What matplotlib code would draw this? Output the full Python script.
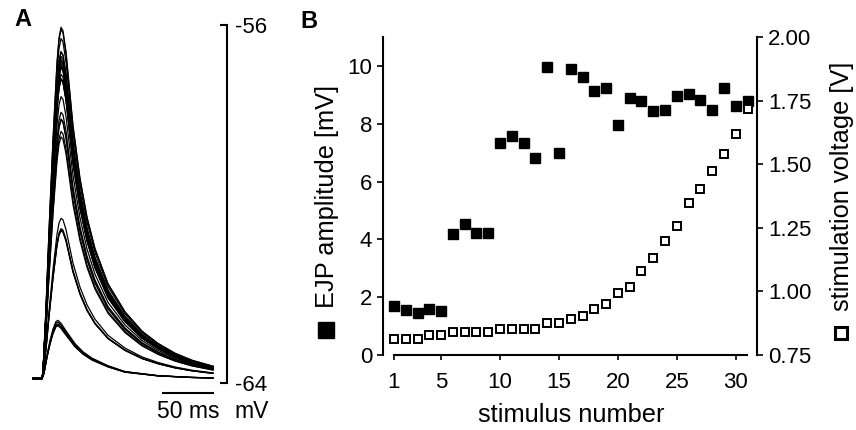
import matplotlib
matplotlib.use("Agg")
import matplotlib.pyplot as plt
import numpy as np

plt.rcParams['font.family'] = ['Liberation Sans', 'DejaVu Sans']
plt.rcParams['axes.unicode_minus'] = False

# ---- panel B: EJP amplitude and stimulation voltage per stimulus ----
stimulus = list(range(1, 32))
ejp_mv = [1.70, 1.55, 1.47, 1.59, 1.53, 4.17, 4.54, 4.22, 4.22, 7.33,
          7.56, 7.33, 6.81, 9.96, 6.98, 9.90, 9.62, 9.12, 9.24, 7.94,
          8.89, 8.80, 8.45, 8.49, 8.97, 9.03, 8.83, 8.49, 9.24, 8.60, 8.80]
stim_v = [0.813, 0.813, 0.813, 0.829, 0.829, 0.842, 0.842, 0.842, 0.842, 0.852,
          0.852, 0.852, 0.852, 0.875, 0.875, 0.891, 0.905, 0.930, 0.950, 0.992,
          1.018, 1.081, 1.130, 1.199, 1.257, 1.349, 1.403, 1.473, 1.539, 1.618, 1.717]
x_ticks = [1, 5, 10, 15, 20, 25, 30]
ejp_ticks = [0, 2, 4, 6, 8, 10]
volt_ticks = [0.75, 1.00, 1.25, 1.50, 1.75, 2.00]

# ---- panel A: overlaid EJP traces ----
rest_mv = -63.9
# normalised waveform of the large EJPs
large_t = [0, 9, 10, 13, 16, 20, 24, 26, 28, 30, 33, 36, 40, 47, 54, 62, 75, 92, 109, 125, 142, 159, 180]
large_f = [0, 0, 0.02, 0.2, 0.42, 0.68, 0.9, 0.97, 1.0, 0.99, 0.93, 0.84, 0.72, 0.57, 0.46, 0.37,
           0.27, 0.19, 0.135, 0.10, 0.072, 0.052, 0.035]
# normalised waveform of the small EJPs
small_t = [0, 9, 11, 14, 17, 20, 23, 25, 28, 33, 42, 50, 59, 75, 92, 125, 158, 180]
small_f = [0, 0, 0.1, 0.4, 0.65, 0.85, 0.98, 1.0, 0.95, 0.82, 0.6, 0.46, 0.35, 0.22, 0.12, 0.05, 0.02, 0.01]
# peak depolarisation of each trace [mV]
trace_peak = [1.30, 1.22, 1.18, 1.26, 1.20, 3.30, 3.58, 3.35, 3.32, 5.80,
              5.95, 5.78, 5.40, 7.85, 5.52, 7.80, 7.60, 7.20, 7.30, 6.30,
              7.02, 6.95, 6.68, 6.70, 7.08, 7.13, 6.98, 6.70, 7.30, 6.80, 6.95]

W, H = 856, 430
fig = plt.figure(figsize=(W / 100, H / 100), dpi=100)


def fx(px):
    return px / W


def fy(px):
    return 1 - px / H


# panel A
axA = fig.add_axes([fx(33), fy(383), fx(227 - 33), (383 - 25) / H])
for p in trace_peak:
    if p < 2:
        t, f = small_t, small_f
    else:
        t, f = large_t, large_f
    axA.plot(t, rest_mv + p * np.array(f), color='black', lw=0.9, clip_on=False)
axA.set_xlim(0, 194)
axA.set_ylim(-64, -56)
for s in ['left', 'top', 'bottom']:
    axA.spines[s].set_visible(False)
axA.spines['right'].set_linewidth(1.5)
axA.set_xticks([])
axA.yaxis.tick_right()
axA.set_yticks([-64, -56])
axA.set_yticklabels(['-64', '-56'])
axA.tick_params(axis='y', direction='in', length=5, width=1.5, pad=5.5, labelsize=16)
# 50 ms scale bar
axA.plot([130, 180], [-64.22, -64.22], color='black', lw=1.5, clip_on=False)
fig.text(fx(188), fy(411), '50 ms', ha='center', va='center', fontsize=16.5)
fig.text(fx(252), fy(411), 'mV', ha='center', va='center', fontsize=16.5)

# panel B
axB = fig.add_axes([fx(383), fy(355), fx(757 - 383), (355 - 37) / H])
axB.plot(stimulus, ejp_mv, 's', color='black', ms=6.8, zorder=3, clip_on=False)
axB.set_xlim(0.07, 31.8)
axB.set_ylim(0, 11)
axB.set_xticks(x_ticks)
axB.set_yticks(ejp_ticks)
axB.spines['top'].set_visible(False)
axB.spines['right'].set_visible(False)
axB.spines['bottom'].set_bounds(1, 30.95)
for s in ['left', 'bottom']:
    axB.spines[s].set_linewidth(1.5)
axB.tick_params(axis='y', length=4.3, width=1.2, pad=3.6, labelsize=16)
axB.tick_params(axis='x', length=3.6, width=1.2, pad=8.5, labelsize=16)

axR = axB.twinx()
axR.plot(stimulus, stim_v, 's', mfc='white', mec='black', mew=1.4, ms=5.5, clip_on=False)
axR.set_ylim(0.75, 2.00)
axR.set_yticks(volt_ticks)
axR.set_yticklabels(['%.2f' % v for v in volt_ticks])
for s in ['top', 'left', 'bottom']:
    axR.spines[s].set_visible(False)
axR.spines['right'].set_linewidth(1.5)
axR.tick_params(axis='y', length=4.3, width=1.2, pad=3.6, labelsize=16)

fig.text(fx(571), fy(415), 'stimulus number', ha='center', va='center', fontsize=18.3)
fig.text(fx(327), fy(196), 'EJP amplitude [mV]', rotation=90, ha='center', va='center', fontsize=18.3)
fig.text(fx(842), fy(186), 'stimulation voltage [V]', rotation=90, ha='center', va='center', fontsize=18.3)
fig.add_artist(plt.Line2D([fx(326)], [fy(330)], marker='s', color='black', ms=11.5, ls='none'))
fig.add_artist(plt.Line2D([fx(841)], [fy(333)], marker='s', mfc='white', mec='black', mew=2.2,
                          ms=8.6, ls='none'))

fig.text(fx(23), fy(20), 'A', ha='center', va='center', fontsize=17, fontweight='bold')
fig.text(fx(309), fy(21), 'B', ha='center', va='center', fontsize=17, fontweight='bold')

fig.savefig('out.png', dpi=100)
